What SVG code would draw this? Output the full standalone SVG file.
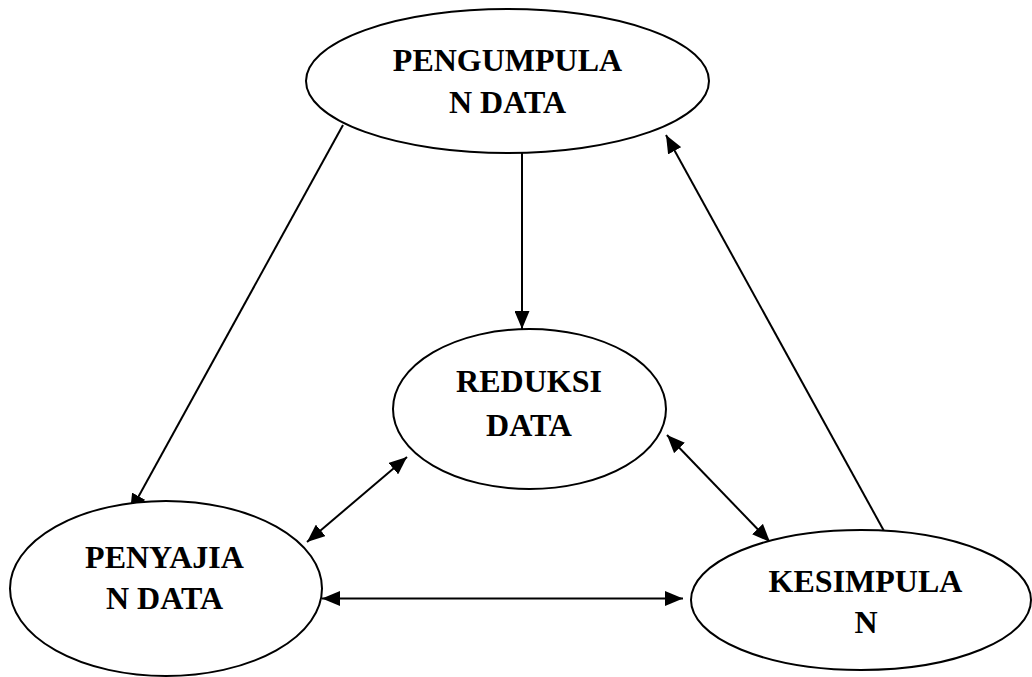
<svg xmlns="http://www.w3.org/2000/svg" width="1032" height="677" viewBox="0 0 1032 677">
<style>
.node ellipse{fill:#fff;stroke:#000;stroke-width:2}
.node text{font-family:"Liberation Serif","Times New Roman",serif;font-weight:bold;font-size:32px;fill:#000;text-anchor:middle}
#connectors line{stroke:#000;stroke-width:2;fill:none}
</style>
<defs>
<marker id="ah" viewBox="0 0 18 15" refX="18" refY="7.5" markerWidth="18" markerHeight="15" markerUnits="userSpaceOnUse" orient="auto-start-reverse">
<path d="M0,0 L18,7.5 L0,15 z" fill="#000"/>
</marker>
</defs>
<rect width="1032" height="677" fill="#fff"/>
<g id="connectors">
<line x1="343" y1="125" x2="130" y2="512" marker-end="url(#ah)"/>
<line x1="522" y1="153" x2="522" y2="329" marker-end="url(#ah)"/>
<line x1="884" y1="531" x2="666" y2="135" marker-end="url(#ah)"/>
<line x1="407" y1="457" x2="307" y2="542" marker-start="url(#ah)" marker-end="url(#ah)"/>
<line x1="667" y1="435" x2="770" y2="542" marker-start="url(#ah)" marker-end="url(#ah)"/>
<line x1="322" y1="598.5" x2="683" y2="598.5" marker-start="url(#ah)" marker-end="url(#ah)"/>
</g>
<g id="pengumpulan" class="node">
<ellipse cx="507.5" cy="81" rx="201.5" ry="72"/>
<text x="507.5" y="71">PENGUMPULA</text>
<text x="507.5" y="113">N DATA</text>
</g>
<g id="reduksi" class="node">
<ellipse cx="529.5" cy="409" rx="136.5" ry="80"/>
<text x="529" y="392">REDUKSI</text>
<text x="529" y="436">DATA</text>
</g>
<g id="penyajian" class="node">
<ellipse cx="166" cy="588.5" rx="156" ry="87.5"/>
<text x="164.5" y="568">PENYAJIA</text>
<text x="164.5" y="609">N DATA</text>
</g>
<g id="kesimpulan" class="node">
<ellipse cx="861" cy="600" rx="170" ry="70"/>
<text x="865.5" y="592">KESIMPULA</text>
<text x="866" y="633">N</text>
</g>
</svg>
